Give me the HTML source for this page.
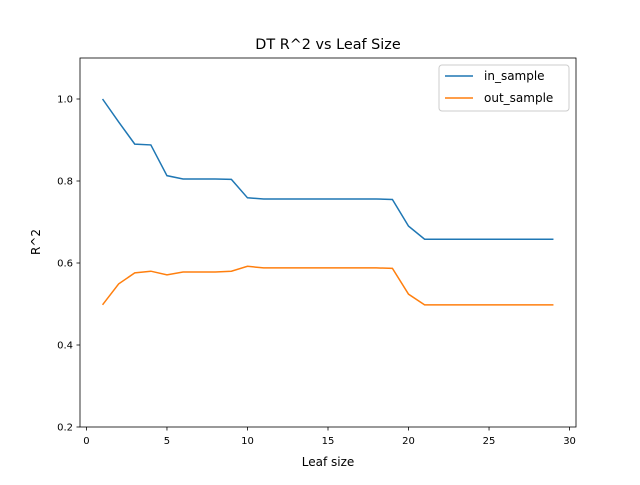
<!DOCTYPE html>
<html><head><meta charset="utf-8"><style>
body{margin:0;background:#fff}
svg{font-family:"DejaVu Sans","Liberation Sans",sans-serif}
</style></head><body>
<svg id="chart" width="640" height="480" xmlns="http://www.w3.org/2000/svg">
<rect width="640" height="480" fill="#fff"/>
<text x="328" y="49" text-anchor="middle" font-size="14.4">DT R^2 vs Leaf Size</text>
<g id="grid"></g>
<g id="series"></g>
<rect x="80" y="58" width="496" height="369" fill="none" stroke="#000" stroke-width="0.8"/>
<text x="328" y="466" text-anchor="middle" font-size="12">Leaf size</text>
<text transform="translate(40,242) rotate(-90)" text-anchor="middle" font-size="12">R^2</text>
<g>
<rect x="439" y="65" width="130" height="46" rx="3" fill="#fff" stroke="#ccc"/>
<line x1="445" y1="76" x2="473" y2="76" stroke="#1f77b4" stroke-width="1.5"/>
<text x="484" y="80" font-size="12">in_sample</text>
<line x1="445" y1="98" x2="473" y2="98" stroke="#ff7f0e" stroke-width="1.5"/>
<text x="484" y="102" font-size="12">out_sample</text>
</g>
</svg>
<script>
const leafSizes=[1,2,3,4,5,6,7,8,9,10,11,12,13,14,15,16,17,18,19,20,21,22,23,24,25,26,27,28,29];
const inSample=[1.0,0.944,0.890,0.888,0.813,0.805,0.805,0.805,0.804,0.759,0.756,0.756,0.756,0.756,0.756,0.756,0.756,0.756,0.755,0.690,0.658,0.658,0.658,0.658,0.658,0.658,0.658,0.658,0.658];
const outSample=[0.498,0.549,0.576,0.580,0.571,0.578,0.578,0.578,0.580,0.592,0.588,0.588,0.588,0.588,0.588,0.588,0.588,0.588,0.587,0.524,0.498,0.498,0.498,0.498,0.498,0.498,0.498,0.498,0.498];
const xTicks=[0,5,10,15,20,25,30];
const yTicks=[0.2,0.4,0.6,0.8,1.0];
const NS="http://www.w3.org/2000/svg";
const L=80,R=576,T=58,B=427;
const xmin=-0.4,xmax=30.4,ymin=0.2,ymax=1.1;
const sx=v=>L+(v-xmin)/(xmax-xmin)*(R-L);
const sy=v=>B-(v-ymin)/(ymax-ymin)*(B-T);
const g=document.getElementById('grid');
function mk(tag,attrs,parent){const e=document.createElementNS(NS,tag);for(const k in attrs)e.setAttribute(k,attrs[k]);parent.appendChild(e);return e;}
xTicks.forEach(t=>{
  const ln=mk('line',{x1:sx(t),x2:sx(t),y1:B,y2:B+3.5,stroke:'#000','stroke-width':0.8},g);
  
  
  const tx=mk('text',{x:sx(t),y:B+17,'text-anchor':'middle','font-size':10},g);
  tx.textContent=t;
  
  
});
yTicks.forEach(t=>{
  const ln=mk('line',{x1:L-3.5,x2:L,y1:sy(t),y2:sy(t),stroke:'#000','stroke-width':0.8},g);
  
  
  const tx=mk('text',{x:L-7,y:sy(t)+3.5,'text-anchor':'end','font-size':10},g);
  tx.textContent=t.toFixed(1);
  
  
});
const s=document.getElementById('series');
function line(vals,color,name){
  const p=mk('polyline',{points:leafSizes.map((x,i)=>sx(x)+','+sy(vals[i])).join(' '),fill:'none',stroke:color,'stroke-width':1.5},s);
  
  
}
line(inSample,'#1f77b4','in-sample-line');
line(outSample,'#ff7f0e','out-sample-line');
</script>
</body></html>
